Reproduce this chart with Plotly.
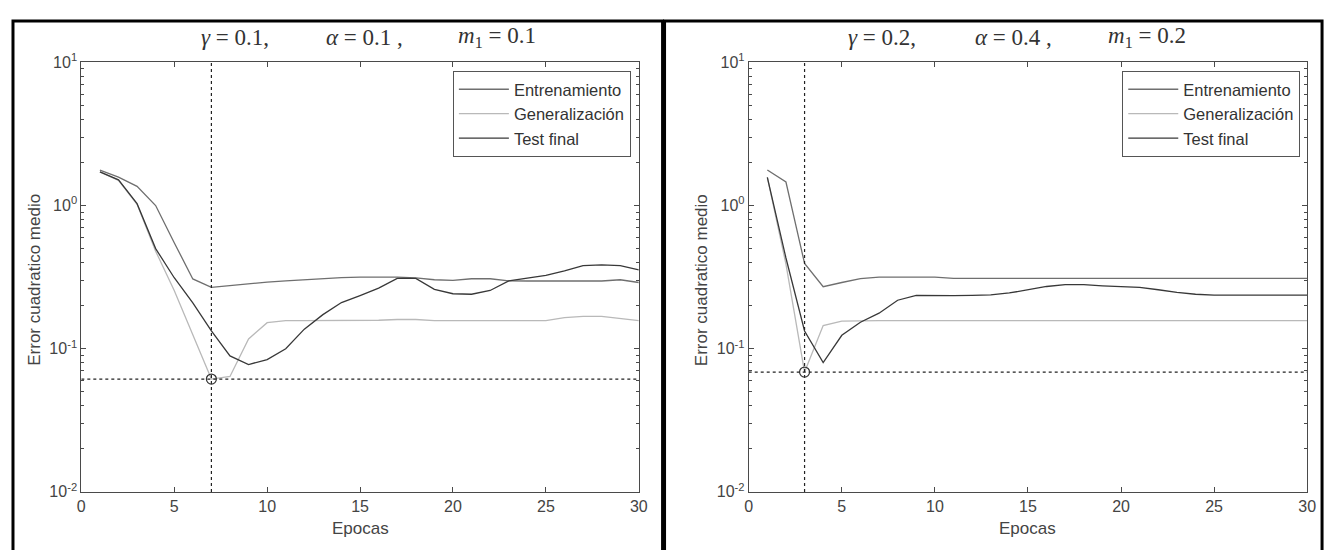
import plotly.graph_objects as go

# The page body has an 8px default margin, so the figure is laid out
# in screen pixels shifted by that offset.
OFF = 8
W, H = 1336 - OFF, 550 - OFF

# ---------------- data ----------------
epochs = list(range(1, 31))

# Panel A: gamma=0.1, alpha=0.1, m1=0.1
train_a = [1.77, 1.58, 1.36, 1.00, 0.55, 0.307, 0.268, 0.276, 0.285, 0.292,
           0.298, 0.303, 0.310, 0.314, 0.316, 0.316, 0.316, 0.312, 0.303, 0.300,
           0.308, 0.308, 0.298, 0.297, 0.297, 0.297, 0.297, 0.297, 0.303, 0.290]
gen_a = [1.72, 1.50, 1.02, 0.48, 0.255, 0.124, 0.0614, 0.064, 0.117, 0.152,
         0.157, 0.157, 0.157, 0.157, 0.157, 0.158, 0.160, 0.160, 0.157, 0.157,
         0.157, 0.157, 0.157, 0.157, 0.157, 0.165, 0.168, 0.168, 0.163, 0.157]
test_a = [1.72, 1.51, 1.03, 0.50, 0.313, 0.209, 0.133, 0.089, 0.0775, 0.084,
          0.100, 0.137, 0.173, 0.210, 0.235, 0.265, 0.310, 0.310, 0.260, 0.242,
          0.240, 0.255, 0.298, 0.310, 0.325, 0.350, 0.380, 0.385, 0.380, 0.355]
best_epoch_a = 7
best_err_a = 0.0614

# Panel B: gamma=0.2, alpha=0.4, m1=0.2
train_b = [1.77, 1.46, 0.394, 0.271, 0.290, 0.309, 0.316, 0.316, 0.316, 0.316,
           0.310, 0.310, 0.310, 0.310, 0.310, 0.310, 0.310, 0.310, 0.310, 0.310,
           0.310, 0.310, 0.310, 0.310, 0.310, 0.310, 0.310, 0.310, 0.310, 0.310]
gen_b = [1.57, 0.39, 0.0687, 0.145, 0.156, 0.157, 0.157, 0.157, 0.157, 0.157,
         0.157, 0.157, 0.157, 0.157, 0.157, 0.157, 0.157, 0.157, 0.157, 0.157,
         0.157, 0.157, 0.157, 0.157, 0.157, 0.157, 0.157, 0.157, 0.157, 0.157]
test_b = [1.57, 0.43, 0.133, 0.080, 0.124, 0.153, 0.177, 0.218, 0.236, 0.235,
          0.235, 0.236, 0.238, 0.245, 0.258, 0.272, 0.280, 0.280, 0.275, 0.270,
          0.268, 0.258, 0.247, 0.240, 0.237, 0.237, 0.237, 0.237, 0.237, 0.237]
best_epoch_b = 3
best_err_b = 0.0687

series_names = ["Entrenamiento", "Generalización", "Test final"]
series_colors = ["#6f6f6f", "#b9b9b9", "#383838"]

titles_a = ["<i>γ</i> = 0.1,", "<i>α</i> = 0.1 ,", "<i>m</i><sub>1</sub> = 0.1"]
titles_b = ["<i>γ</i> = 0.2,", "<i>α</i> = 0.4 ,", "<i>m</i><sub>1</sub> = 0.2"]

x_tickvals = [0, 5, 10, 15, 20, 25, 30]
y_tickvals = [0.01, 0.1, 1, 10]
y_ticktext = ["10<sup>-2</sup>", "10<sup>-1</sup>", "10<sup>0</sup>", "10<sup>1</sup>"]
x_title = "Epocas"
y_title = "Error cuadratico medio"

# ---------------- layout helpers (screen pixel -> paper) ----------------
def px(x):
    return (x - OFF) / W

def py(y):
    return 1 - (y - OFF) / H

plot_top, plot_bot = 53, 499
dom_y = [py(plot_bot), py(plot_top)]
dom_xa = [px(78), px(641)]
dom_xb = [px(752), px(1316)]

FONT = "Liberation Sans, Arial, sans-serif"
SERIF = "Liberation Serif, Times New Roman, serif"

minor_vals = [m * 10 ** e for e in (-2, -1, 0) for m in range(2, 10)]

fig = go.Figure()

panels = [
    ("x", "y", "legend", (train_a, gen_a, test_a), best_epoch_a, best_err_a),
    ("x2", "y2", "legend2", (train_b, gen_b, test_b), best_epoch_b, best_err_b),
]

for xa, ya, leg, series, be, berr in panels:
    for name, color, vals in zip(series_names, series_colors, series):
        fig.add_trace(go.Scatter(
            x=epochs, y=vals, mode="lines", name=name,
            line=dict(color=color, width=1.3),
            xaxis=xa, yaxis=ya, legend=leg, showlegend=True,
        ))
    fig.add_trace(go.Scatter(
        x=[be, be], y=[y_tickvals[0], y_tickvals[-1]], mode="lines",
        line=dict(color="#222222", width=1.2, dash="3px,3px"),
        xaxis=xa, yaxis=ya, showlegend=False, hoverinfo="skip",
    ))
    fig.add_trace(go.Scatter(
        x=[x_tickvals[0], x_tickvals[-1]], y=[berr, berr], mode="lines",
        line=dict(color="#222222", width=1.2, dash="3px,3px"),
        xaxis=xa, yaxis=ya, showlegend=False, hoverinfo="skip",
    ))
    fig.add_trace(go.Scatter(
        x=[be], y=[berr], mode="markers",
        marker=dict(symbol="circle-open", size=10, color="#333333",
                    line=dict(width=1.2, color="#333333")),
        xaxis=xa, yaxis=ya, showlegend=False, hoverinfo="skip",
    ))

axis_common = dict(
    showgrid=False, zeroline=False, showline=True, linecolor="#4a4a4a",
    linewidth=1, mirror="ticks", ticks="inside", tickcolor="#4a4a4a",
    ticklen=5, tickfont=dict(family=FONT, size=16, color="#444444"),
)

xaxis_cfg = dict(axis_common, range=[0, 30], tickmode="array",
                 tickvals=x_tickvals, ticktext=[str(v) for v in x_tickvals])
yaxis_cfg = dict(axis_common, type="log", range=[-2, 1], tickmode="array",
                 tickvals=y_tickvals, ticktext=y_ticktext,
                 minor=dict(tickmode="array", tickvals=minor_vals, ticks="inside",
                            ticklen=3, tickcolor="#4a4a4a"))

legend_common = dict(
    xanchor="right", yanchor="top", bgcolor="white", bordercolor="#555555",
    borderwidth=1, font=dict(family=FONT, size=16.5, color="#333333"),
    itemwidth=50, tracegroupgap=0,
)

fig.update_layout(
    width=W, height=H,
    margin=dict(l=0, r=0, t=0, b=0),
    paper_bgcolor="white", plot_bgcolor="white",
    xaxis=dict(xaxis_cfg, domain=dom_xa, anchor="y"),
    yaxis=dict(yaxis_cfg, domain=dom_y, anchor="x"),
    xaxis2=dict(xaxis_cfg, domain=dom_xb, anchor="y2"),
    yaxis2=dict(yaxis_cfg, domain=dom_y, anchor="x2"),
    legend=dict(legend_common, x=px(633), y=py(62)),
    legend2=dict(legend_common, x=px(1309), y=py(62)),
)

annotations = []
for texts, centers in ((titles_a, [233, 364, 498]), (titles_b, [887, 1019, 1154])):
    for t, c in zip(texts, centers):
        annotations.append(dict(
            text=t, x=px(c), y=py(27), xref="paper", yref="paper",
            xanchor="center", yanchor="middle", showarrow=False,
            font=dict(family=SERIF, size=23, color="#333333"),
        ))
for xc, ylab_x in ((360, 30), (1034, 704)):
    annotations.append(dict(
        text=x_title, x=px(xc), y=py(537), xref="paper", yref="paper",
        xanchor="center", yanchor="middle", showarrow=False,
        font=dict(family=FONT, size=17, color="#444444"),
    ))
    annotations.append(dict(
        text=y_title, x=px(ylab_x), y=py(279),
        xref="paper", yref="paper", xanchor="center", yanchor="middle",
        textangle=-90, showarrow=False,
        font=dict(family=FONT, size=17, color="#444444"),
    ))
fig.update_layout(annotations=annotations)

shapes = []
for x0, x1 in ((9, 665), (667, 1331)):
    shapes.append(dict(type="rect", xref="paper", yref="paper",
                       x0=px(x0), x1=px(x1), y0=py(570), y1=py(10),
                       line=dict(color="black", width=3), fillcolor="rgba(0,0,0,0)"))
fig.update_layout(shapes=shapes)

fig.write_html("out.html")
